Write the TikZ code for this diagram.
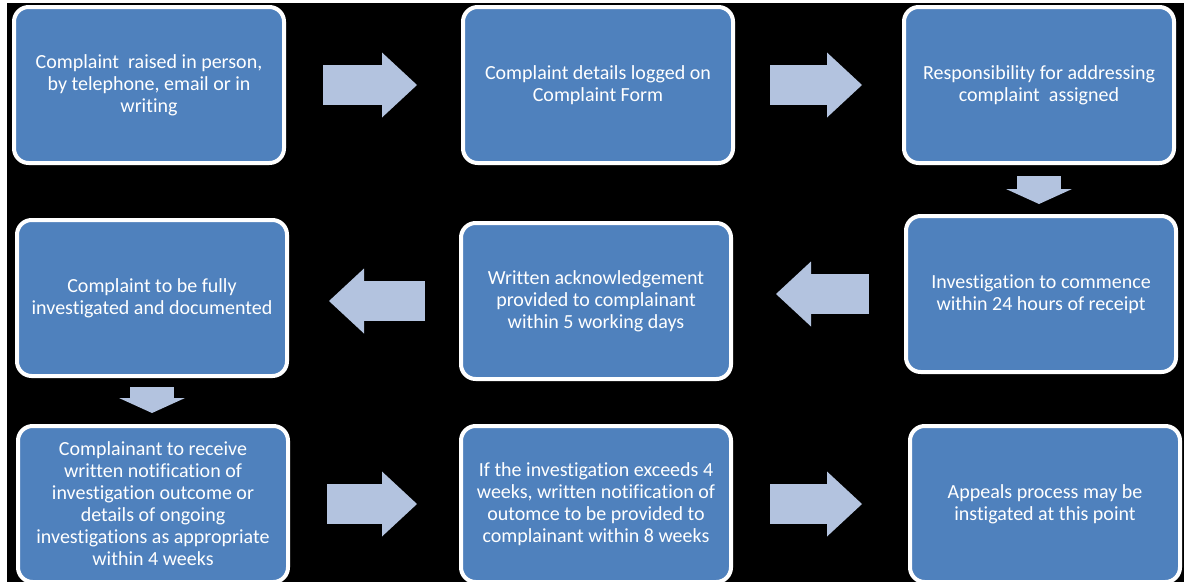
\documentclass[tikz,border=0pt]{standalone}
\usepackage{fontspec}
\setmainfont{Carlito}[Ligatures=NoCommon]
\usetikzlibrary{arrows.meta}
\definecolor{boxblue}{HTML}{4F81BD}
\definecolor{arrowblue}{HTML}{B3C3DF}

\begin{document}
\begin{tikzpicture}[x=0.75pt,y=-0.75pt,
    stepbox/.style={draw=white,fill=boxblue,line width=3pt,rounded corners=11pt,
      minimum width=202.5pt,minimum height=117pt,align=center,text=white,
      font=\fontsize{15}{16.5}\selectfont},
    sidearrow/.style={arrowblue,line width=30pt,
      -{Triangle[length=26.25pt,width=48.75pt,line width=0pt]}},
    downarrow/.style={arrowblue,line width=33pt,
      -{Triangle[length=11.25pt,width=49.5pt,line width=0pt]}}]
    \useasboundingbox (0,0) rectangle (1184,582);
    \fill[black] (7,3) rectangle (1184,582);

    \node[stepbox]  (raised)   at (149,85)   {Complaint\ \ raised in person,\\by telephone, email or in\\writing};
    \node[stepbox]  (logged)   at (598,85)   {Complaint details logged on\\Complaint Form};
    \node[stepbox]  (assigned) at (1039,85)  {Responsibility for addressing\\complaint\ \ assigned};
    \node[stepbox]  (commence) at (1041,294) {Investigation to commence\\within 24 hours of receipt};
    \node[stepbox]  (acknow)   at (596,301)  {Written acknowledgement\\provided to complainant\\within 5 working days};
    \node[stepbox]  (document) at (152,298)  {Complaint to be fully\\investigated and documented};
    \node[stepbox]  (outcome)  at (153,504)  {Complainant to receive\\written notification of\\investigation outcome or\\details of ongoing\\investigations as appropriate\\within 4 weeks};
    \node[stepbox]  (exceeds)  at (596,504)  {If the investigation exceeds 4\\weeks, written notification of\\outomce to be provided to\\complainant within 8 weeks};
    \node[stepbox]  (appeals)  at (1045,504) {Appeals process may be\\instigated at this point};

    \path[sidearrow]
        (raised.east)   edge[shorten <=27.75pt, shorten >=33pt]   (logged.west)
        (logged.east)   edge[shorten <=26.25pt, shorten >=30pt]   (assigned.west)
        (commence.west) edge[shorten <=26.25pt, shorten >=32.25pt] (commence.west -| acknow.east)
        (acknow.west)   edge[shorten <=25.5pt,  shorten >=30pt]   (acknow.west -| document.east)
        (outcome.east)  edge[shorten <=27.75pt, shorten >=31.5pt] (exceeds.west)
        (exceeds.east)  edge[shorten <=27.75pt, shorten >=34.5pt] (appeals.west)
        ;
    \path[downarrow]
        (assigned.south) edge[shorten <=8.25pt, shorten >=7.5pt]  (assigned.south |- commence.north)
        (document.south) edge[shorten <=6.75pt, shorten >=8.25pt] (document.south |- outcome.north)
        ;
\end{tikzpicture}
\end{document}
